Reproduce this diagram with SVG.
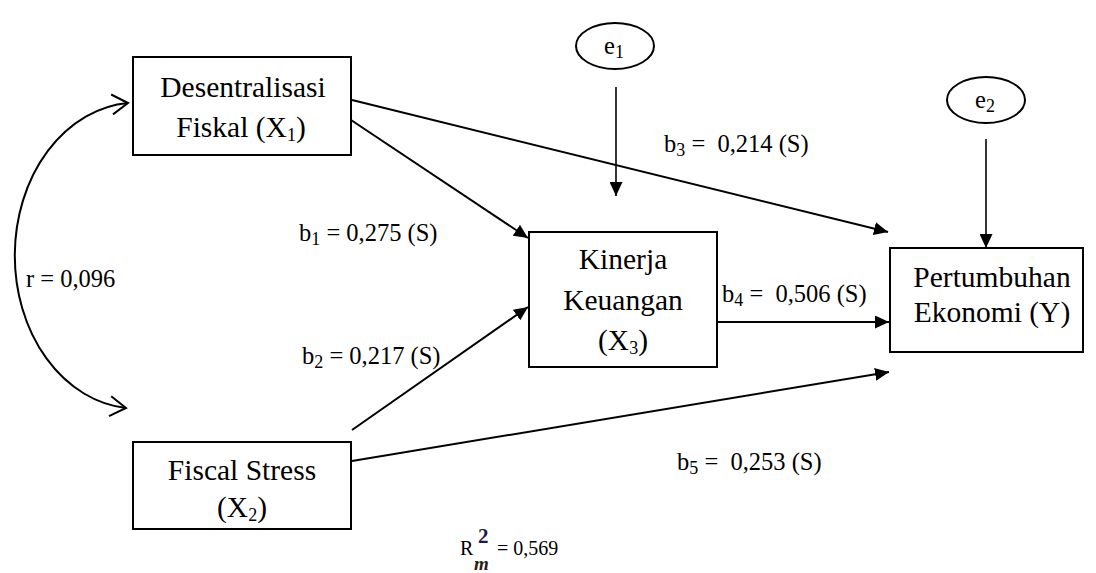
<svg xmlns="http://www.w3.org/2000/svg" width="1096" height="573" viewBox="0 0 1096 573" font-family="Liberation Serif, serif">
<style>
.box{fill:#fff;stroke:#000;stroke-width:2}
.ell{fill:#fff;stroke:#000;stroke-width:2}
.t{font-family:'Liberation Serif',serif;font-size:29.5px;fill:#000;text-anchor:middle}
.lb{font-family:'Liberation Serif',serif;font-size:24.5px;fill:#000}
.sub{font-size:18px}
.ln{stroke:#000;stroke-width:2;fill:none}
</style>
<defs>
<marker id="ah" markerUnits="userSpaceOnUse" markerWidth="14" markerHeight="13" refX="14" refY="6.5" orient="auto">
<path d="M0,0 L14,6.5 L0,13 z" fill="#000"/>
</marker>
<marker id="oh" markerUnits="userSpaceOnUse" markerWidth="20" markerHeight="24" refX="17" refY="12" orient="auto-start-reverse">
<path d="M1,2 L17,12 L1,22" fill="none" stroke="#000" stroke-width="2"/>
</marker>
</defs>
<rect width="1096" height="573" fill="#fff"/>
<g id="connectors">
<path class="ln" d="M128,103 A122,153 0 0,0 126,408" marker-start="url(#oh)" marker-end="url(#oh)"/>
<line class="ln" x1="351" y1="120" x2="528" y2="238" marker-end="url(#ah)"/>
<line class="ln" x1="352" y1="430" x2="528" y2="307" marker-end="url(#ah)"/>
<line class="ln" x1="352" y1="100" x2="888" y2="232" marker-end="url(#ah)"/>
<line class="ln" x1="717" y1="322" x2="889" y2="322" marker-end="url(#ah)"/>
<line class="ln" x1="352" y1="461" x2="889" y2="372" marker-end="url(#ah)"/>
<line class="ln" x1="616" y1="87" x2="616" y2="196" marker-end="url(#ah)" style="stroke-width:1.6"/>
<line class="ln" x1="986" y1="139" x2="986" y2="248" marker-end="url(#ah)" style="stroke-width:1.6"/>
</g>
<g id="x1">
<rect class="box" x="133" y="57" width="218" height="98"/>
<text class="t" x="243" y="97">Desentralisasi</text>
<text class="t" x="241" y="137">Fiskal (X<tspan class="sub" dy="4">1</tspan><tspan dy="-4">)</tspan></text>
</g>
<g id="x2">
<rect class="box" x="133" y="442" width="218" height="87"/>
<text class="t" x="242" y="480">Fiscal Stress</text>
<text class="t" x="242" y="517">(X<tspan class="sub" dy="4">2</tspan><tspan dy="-4">)</tspan></text>
</g>
<g id="x3">
<rect class="box" x="529" y="232" width="188" height="135"/>
<text class="t" x="623" y="269">Kinerja</text>
<text class="t" x="623" y="310">Keuangan</text>
<text class="t" x="623" y="350">(X<tspan class="sub" dy="4">3</tspan><tspan dy="-4">)</tspan></text>
</g>
<g id="y">
<rect class="box" x="890" y="248" width="193" height="104"/>
<text class="t" x="992" y="287">Pertumbuhan</text>
<text class="t" x="992" y="322">Ekonomi (Y)</text>
</g>
<g id="e1">
<ellipse class="ell" cx="615" cy="46" rx="39" ry="23"/>
<text class="lb" x="614" y="54" text-anchor="middle">e<tspan class="sub" dy="4">1</tspan></text>
</g>
<g id="e2">
<ellipse class="ell" cx="986" cy="100" rx="39" ry="23"/>
<text class="lb" x="985" y="108" text-anchor="middle">e<tspan class="sub" dy="4">2</tspan></text>
</g>
<g id="labels">
<text class="lb" x="26" y="287">r = 0,096</text>
<text class="lb" x="299" y="241">b<tspan class="sub" dy="4">1</tspan><tspan dy="-4"> = 0,275 (S)</tspan></text>
<text class="lb" x="302" y="364">b<tspan class="sub" dy="4">2</tspan><tspan dy="-4"> = 0,217 (S)</tspan></text>
<text class="lb" x="664" y="152" xml:space="preserve">b<tspan class="sub" dy="4">3</tspan><tspan dy="-4"> =  0,214 (S)</tspan></text>
<text class="lb" x="722" y="302" xml:space="preserve">b<tspan class="sub" dy="4">4</tspan><tspan dy="-4"> =  0,506 (S)</tspan></text>
<text class="lb" x="677" y="470" xml:space="preserve">b<tspan class="sub" dy="4">5</tspan><tspan dy="-4"> =  0,253 (S)</tspan></text>
<text class="lb" x="460" y="555" style="font-size:20px">R</text>
<text x="478" y="543" style="font-family:'Liberation Serif',serif;font-size:21px;font-weight:bold;fill:#1a1a50">2</text>
<text x="474" y="570" style="font-family:'Liberation Serif',serif;font-size:19px;font-style:italic;font-weight:bold;fill:#2a2010">m</text>
<text class="lb" x="497" y="555" style="font-size:20px">= 0,569</text>
</g>
</svg>
